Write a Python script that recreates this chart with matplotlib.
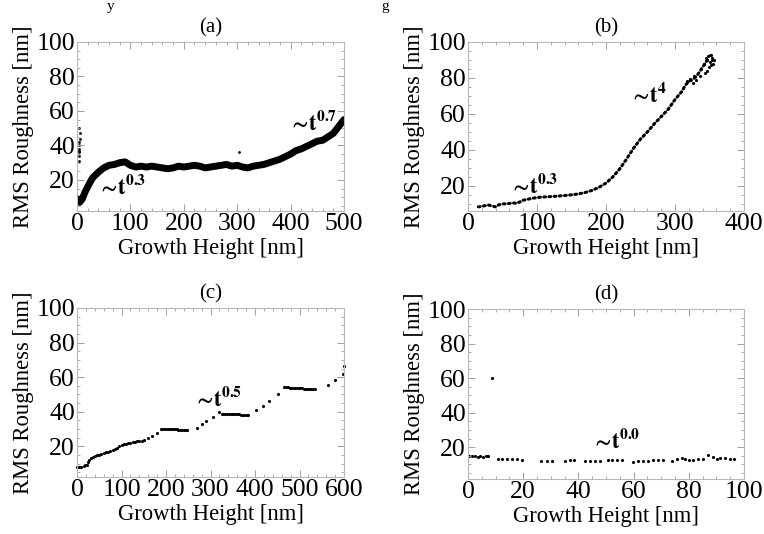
import matplotlib
matplotlib.use("Agg")
import matplotlib.pyplot as plt
from matplotlib.ticker import MultipleLocator

plt.rcParams['font.family'] = ['Liberation Serif', 'DejaVu Serif']
plt.rcParams['mathtext.fontset'] = 'stix'

# (a) main band and the early cluster near the origin
a_x = [2, 5, 10, 15, 20, 25, 30, 40, 50, 60, 70, 80, 90, 100, 110, 120, 130, 140,
       150, 160, 170, 180, 190, 200, 210, 220, 230, 240, 250, 260, 270, 280, 290,
       300, 310, 320, 330, 340, 350, 360, 370, 380, 390, 400, 410, 420, 430, 440,
       450, 460, 470, 480, 490, 500]
a_y = [9, 7, 9, 13, 16, 19, 21.5, 24.5, 27, 28.5, 29, 30, 30.5, 28.5, 27.5, 28,
       27.5, 28, 27.5, 27, 26.5, 27, 28, 27.5, 28, 28.5, 28, 27, 27.5, 28, 28.5,
       29, 28, 28.5, 27.5, 27, 28, 28.5, 29, 30, 31, 32, 33.5, 35, 37, 38, 39.5,
       41, 42.5, 43, 45, 47, 51, 55]
a_cx = [3, 3, 4, 3, 4, 5, 5, 4, 3, 4, 303]
a_cy = [36, 38, 40, 42, 37, 44, 47, 50, 34, 31, 36]

# (b)
b_x = [15, 20, 25, 30, 35, 40, 45, 50, 55, 60, 65, 70, 75, 80, 90, 100, 110, 120,
       130, 140, 150, 160, 170, 180, 190, 200, 210, 220, 230, 240, 250, 260, 270,
       280, 290, 300, 310, 315, 320, 325, 330, 335, 340, 345, 350]
b_y = [8.3, 8.6, 9.0, 9.3, 8.8, 8.3, 9.5, 9.9, 10.0, 10.2, 10.5, 10.3, 11.0, 12.0,
       12.8, 13.5, 13.8, 14.0, 14.3, 14.6, 15.0, 15.5, 16.3, 17.5, 19.2, 21.5, 25.0,
       29.5, 35.0, 41.0, 46.0, 50.0, 54.5, 58.5, 62.5, 68.0, 72.5, 76.0, 78.0, 79.0,
       80.5, 83.0, 86.0, 89.0, 91.0]
b_bx = [338, 342, 345, 348, 350, 352, 354, 355, 349, 346, 352, 356, 343, 336, 330,
        326, 322, 328, 318, 347, 351, 353]
b_by = [85, 88, 91, 92, 89, 92.5, 90, 88, 86, 84, 87, 90, 83, 81, 79, 77, 79.5, 81,
        78.5, 90, 93, 91]

# (c)
c_x = [1, 5, 10, 15, 19, 22, 25, 28, 32, 36, 40, 45, 50, 55, 60, 65, 70, 75, 80,
       85, 90, 95, 100, 105, 110, 115, 120, 125, 130, 135, 140, 145, 150, 160, 169,
       179, 188, 192, 196, 200, 204, 208, 212, 216, 220, 224, 228, 232, 236, 240,
       244, 248, 269, 280, 291, 305, 318, 325, 329, 333, 337, 341, 345, 349, 353,
       357, 361, 365, 369, 373, 377, 381, 385, 402, 417, 432, 452, 466, 470, 474,
       478, 482, 486, 490, 494, 498, 502, 506, 510, 514, 518, 522, 526, 530, 534,
       565, 580, 597, 600]
c_y = [7.8, 7.8, 8, 8.4, 9, 9.5, 11, 12, 13, 13.8, 14.2, 14.8, 15.3, 15.8, 16.2,
       16.7, 17, 17.5, 17.8, 18.3, 19, 20, 20.8, 21.2, 21.5, 21.8, 22.1, 22.4, 22.7,
       23, 23.3, 23.4, 23.9, 24.7, 25.8, 27.8, 30.1, 30.2, 30.3, 30.3, 30.2, 30.2,
       30.1, 30, 29.9, 29.8, 29.6, 29.5, 29.4, 29.3, 29.4, 29.2, 30.8, 32.7, 34.6,
       37.2, 39.8, 39, 38.9, 38.9, 38.8, 38.8, 38.8, 38.7, 38.7, 38.6, 38.6, 38.5,
       38.4, 38.3, 38.3, 38.2, 38.2, 41, 43.3, 46.3, 50.3, 54.6, 54.3, 54.2, 54,
       53.9, 53.8, 53.8, 53.7, 53.6, 53.5, 53.6, 53.4, 53.3, 53.2, 53.3, 53.1, 53,
       53.2, 55.3, 58.2, 61.7, 66.3]

# (d)
d_x = [0.5, 1.5, 2.5, 3.5, 4.5, 5.5, 6.5, 7.3, 8.6, 11, 12.4, 14, 15.8, 17.6, 19.6,
       26.4, 28.5, 30.3, 35.1, 36.9, 38.5, 42.4, 44.2, 46, 47.8, 50.6, 52.1, 53.9,
       55.7, 59.9, 61.7, 63.5, 65.3, 67.1, 68.9, 70.8, 73.8, 75.6, 77.4, 78.6, 80.1,
       81.6, 83.4, 85.3, 87.1, 88.9, 90.1, 91.3, 93.1, 95, 96.5]
d_y = [15, 14.8, 15, 14.6, 14.9, 14.5, 15.2, 15, 59.8, 13.2, 13.4, 13.1, 13, 13.2,
       12.8, 12, 12.2, 12.1, 12.3, 12.6, 12.4, 12, 12.1, 12, 12.2, 12.5, 12.7,
       12.6, 12.5, 11.4, 12, 12.1, 12, 12.4, 12.6, 12.5, 11.9, 13.4, 14, 13, 12.6,
       12.8, 13.2, 13, 15.5, 14.2, 13, 13.6, 13.6, 13.2, 13]

W, H = 764, 534
fig = plt.figure(figsize=(W / 100, H / 100), dpi=100)


def make_ax(l, r, t, b, title, xmax, xmaj, xmin, ylo):
    ax = fig.add_axes([l / W, 1 - b / H, (r - l) / W, (b - t) / H])
    ax.set_xlim(0, xmax)
    ax.set_ylim(ylo, 100)
    ax.xaxis.set_major_locator(MultipleLocator(xmaj))
    ax.xaxis.set_minor_locator(MultipleLocator(xmin))
    ax.yaxis.set_minor_locator(MultipleLocator(5))
    ax.set_yticks([20, 40, 60, 80, 100])
    for s in ax.spines.values():
        s.set_color('#b8b8b8')
        s.set_linewidth(0.8)
    ax.tick_params(which='both', direction='in', top=True, right=True,
                   color='#a0a0a0', labelsize=18.5, pad=1.5)
    ax.tick_params(which='major', length=5, width=0.7)
    ax.tick_params(which='minor', length=2.5, width=0.6)
    ax.set_xlabel('Growth Height [nm]', fontsize=16.3, labelpad=2)
    ax.set_ylabel('RMS Roughness [nm]', fontsize=16.3, labelpad=2)
    ax.set_title(title, fontsize=15, pad=7)
    return ax


ann = dict(fontsize=16, color='black')


def tlabel(p):
    return r'$\mathbf{{\sim}\!t^{%s}}$' % p


ax = make_ax(77, 344, 42, 211, '(a)', 500, 100, 20, 2)
ax.plot(a_x, a_y, color='black', lw=5, solid_capstyle='round', solid_joinstyle='round')
ax.scatter(a_cx, a_cy, s=4, color='black', lw=0)
ax.text(37, 11.8, tlabel('0.3'), **ann)
ax.text(395, 49, tlabel('0.7'), **ann)

ax = make_ax(468, 744, 42, 211, '(b)', 400, 100, 20, 6)
ax.plot(b_x, b_y, color='black', lw=2.2, linestyle=(0, (0.6, 1.1)),
        dash_capstyle='round')
ax.scatter(b_bx, b_by, s=5, color='black', lw=0)
ax.text(59, 16.2, tlabel('0.3'), **ann)
ax.text(233, 66.5, tlabel('4'), **ann)

ax = make_ax(77, 344, 308, 477, '(c)', 600, 100, 20, 2.3)
ax.scatter(c_x, c_y, s=5, color='black', lw=0, clip_on=False)
ax.text(261, 43.6, tlabel('0.5'), **ann)

ax = make_ax(468, 744, 309, 479, '(d)', 100, 20, 5, 1.6)
ax.scatter(d_x, d_y, s=5, color='black', lw=0)
ax.text(44.6, 19.4, tlabel('0.0'), **ann)

# caption fragments along the top edge
fig.text(107 / W, 1, 'y', fontsize=11, va='top')
fig.text(381 / W, 1, 'g', fontsize=11, va='top')

fig.savefig('out.png', dpi=100)
